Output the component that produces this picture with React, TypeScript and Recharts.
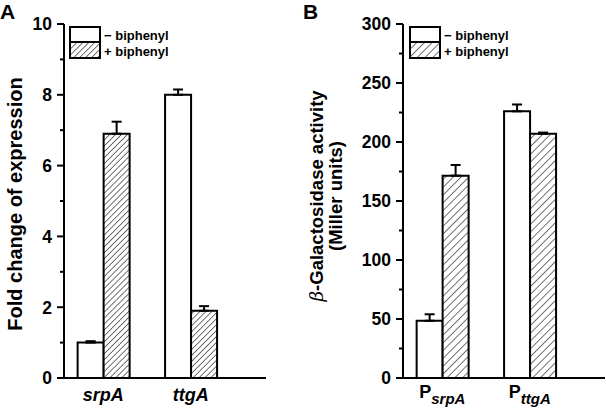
import React from 'react';
import { ComposedChart, Bar, XAxis, YAxis, ErrorBar, Customized } from 'recharts';

// ---- Data ----
const seriesNames = ['\u2212 biphenyl', '+ biphenyl'];

const categoriesA = ['srpA', 'ttgA'];
const minusA = [1.0, 8.0];
const minusErrA = [0.04, 0.15];
const plusA = [6.9, 1.9];
const plusErrA = [0.34, 0.13];
const ticksA = [0, 1, 2, 3, 4, 5, 6, 7, 8, 9, 10];
const labeledTicksA = [0, 2, 4, 6, 8, 10];

const categoriesB = ['srpA', 'ttgA'];
const minusB = [48.5, 226];
const minusErrB = [5.5, 5.8];
const plusB = [171.5, 207];
const plusErrB = [9, 1];
const ticksB = [0, 25, 50, 75, 100, 125, 150, 175, 200, 225, 250, 275, 300];
const labeledTicksB = [0, 50, 100, 150, 200, 250, 300];

const FONT = '"Liberation Sans", Arial, sans-serif';

const buildData = (cats: string[], m: number[], me: number[], p: number[], pe: number[]) =>
  cats.map((c, i) => ({ x: i + 1, name: c, minus: m[i], minusErr: [0, me[i]], plus: p[i], plusErr: [0, pe[i]] }));

const dataA = buildData(categoriesA, minusA, minusErrA, plusA, plusErrA);
const dataB = buildData(categoriesB, minusB, minusErrB, plusB, plusErrB);

const YTick = (props: any) => {
  const { x, y, payload, labeled } = props;
  const major = labeled.includes(payload.value);
  const len = major ? 7 : 4;
  return (
    <g>
      <line x1={x - len} y1={y} x2={x} y2={y} stroke="#000" strokeWidth={2} />
      {major && (
        <text x={x - 12} y={y} dy="0.36em" textAnchor="end" fontFamily={FONT} fontWeight="bold" fontSize={17.5} fill="#000">
          {payload.value}
        </text>
      )}
    </g>
  );
};

const XTickA = (props: any) => {
  const { x, y, payload } = props;
  return (
    <text x={x} y={y + 23} textAnchor="middle" fontFamily={FONT} fontWeight="bold" fontStyle="italic" fontSize={18} fill="#000">
      {categoriesA[payload.value - 1]}
    </text>
  );
};

const XTickB = (props: any) => {
  const { x, y, payload } = props;
  return (
    <text x={x} y={y + 20} textAnchor="middle" fontFamily={FONT} fontWeight="bold" fontSize={18} fill="#000">
      <tspan>P</tspan>
      <tspan dy={6} fontStyle="italic" fontSize={15}>{categoriesB[payload.value - 1]}</tspan>
    </text>
  );
};

const Legendish = ({ x0, hatch }: { x0: number; hatch: string }) => (
  <g fontFamily={FONT} fontWeight="bold" fontSize={13} fill="#000">
    <rect x={x0} y={27} width={30} height={15} fill="#fff" stroke="#000" strokeWidth={2} />
    <rect x={x0} y={42} width={30} height={16} fill={`url(#${hatch})`} stroke="#000" strokeWidth={2} />
    <text x={x0 + 34} y={39.5}>{seriesNames[0]}</text>
    <text x={x0 + 34} y={55.5}>{seriesNames[1]}</text>
  </g>
);

const Panel = (props: {
  data: any[];
  domain: [number, number];
  ticks: number[];
  labeled: number[];
  hatch: string;
  xTick: any;
  left: number;
  right: number;
  decor: React.ReactNode;
}) => (
  <ComposedChart
    width={303}
    height={411}
    data={props.data}
    margin={{ top: 24, right: props.right, left: props.left - 1, bottom: 32 }}
    barGap={0}
  >
    <XAxis
      dataKey="x"
      type="number"
      domain={[0.55, 2.86]}
      ticks={[1, 2]}
      height={1}
      tickSize={0}
      tickMargin={0}
      tickLine={false}
      axisLine={{ stroke: '#000', strokeWidth: 2 }}
      tick={props.xTick}
      interval={0}
      allowDataOverflow
    />
    <YAxis
      type="number"
      domain={props.domain}
      ticks={props.ticks}
      width={1}
      tickSize={0}
      tickMargin={0}
      tickLine={false}
      interval={0}
      axisLine={{ stroke: '#000', strokeWidth: 2 }}
      tick={(tp: any) => <YTick {...tp} labeled={props.labeled} />}
      allowDataOverflow
    />
    <Bar dataKey="minus" name={seriesNames[0]} barSize={26} fill="#fff" stroke="#000" strokeWidth={2} isAnimationActive={false}>
      <ErrorBar dataKey="minusErr" width={5} stroke="#000" strokeWidth={2} direction="y" />
    </Bar>
    <Bar dataKey="plus" name={seriesNames[1]} barSize={26} fill={`url(#${props.hatch})`} stroke="#000" strokeWidth={2} isAnimationActive={false}>
      <ErrorBar dataKey="plusErr" width={5} stroke="#000" strokeWidth={2} direction="y" />
    </Bar>
    <Customized component={() => <g>{props.decor}</g>} />
  </ComposedChart>
);

export default function App() {
  return (
    <div style={{ position: 'absolute', left: 0, top: 0, width: 606, height: 411, background: '#fff' }}>
      <svg width={0} height={0} style={{ position: 'absolute' }}>
        <defs>
          <pattern id="hatchA" patternUnits="userSpaceOnUse" width={4.2} height={4.2} patternTransform="rotate(45)">
            <rect width={4.2} height={4.2} fill="#fff" />
            <line x1={0} y1={0} x2={0} y2={4.2} stroke="#000" strokeWidth={1.1} />
          </pattern>
          <pattern id="hatchB" patternUnits="userSpaceOnUse" width={5.5} height={5.5} patternTransform="rotate(45)">
            <rect width={5.5} height={5.5} fill="#fff" />
            <line x1={0} y1={0} x2={0} y2={5.5} stroke="#000" strokeWidth={1.1} />
          </pattern>
        </defs>
      </svg>
      <div style={{ position: 'absolute', left: 0, top: 0 }}>
        <Panel
          data={dataA}
          domain={[0, 10]}
          ticks={ticksA}
          labeled={labeledTicksA}
          hatch="hatchA"
          left={64}
          right={37}
          xTick={(tp: any) => <XTickA {...tp} />}
          decor={
            <g>
              <text x={0} y={19} fontFamily={FONT} fontWeight="bold" fontSize={21} fill="#000">A</text>
              <text
                transform="translate(22,204) rotate(-90)"
                textAnchor="middle"
                fontFamily={FONT}
                fontWeight="bold"
                fontSize={20}
                fill="#000"
              >
                Fold change of expression
              </text>
              <Legendish x0={70} hatch="hatchA" />
            </g>
          }
        />
      </div>
      <div style={{ position: 'absolute', left: 303, top: 0 }}>
        <Panel
          data={dataB}
          domain={[0, 300]}
          ticks={ticksB}
          labeled={labeledTicksB}
          hatch="hatchB"
          left={100}
          right={1}
          xTick={(tp: any) => <XTickB {...tp} />}
          decor={
            <g>
              <text x={0} y={19} fontFamily={FONT} fontWeight="bold" fontSize={21} fill="#000">B</text>
              <text
                transform="translate(20,196) rotate(-90)"
                textAnchor="middle"
                fontFamily={FONT}
                fontWeight="bold"
                fontSize={18.5}
                fill="#000"
              >
                <tspan fontStyle="italic" fontFamily='"DejaVu Serif", serif' fontWeight="normal">β</tspan>-Galactosidase activity
              </text>
              <text
                transform="translate(39,196) rotate(-90)"
                textAnchor="middle"
                fontFamily={FONT}
                fontWeight="bold"
                fontSize={18.5}
                fill="#000"
              >
                (Miller units)
              </text>
              <Legendish x0={107} hatch="hatchB" />
            </g>
          }
        />
      </div>
    </div>
  );
}
